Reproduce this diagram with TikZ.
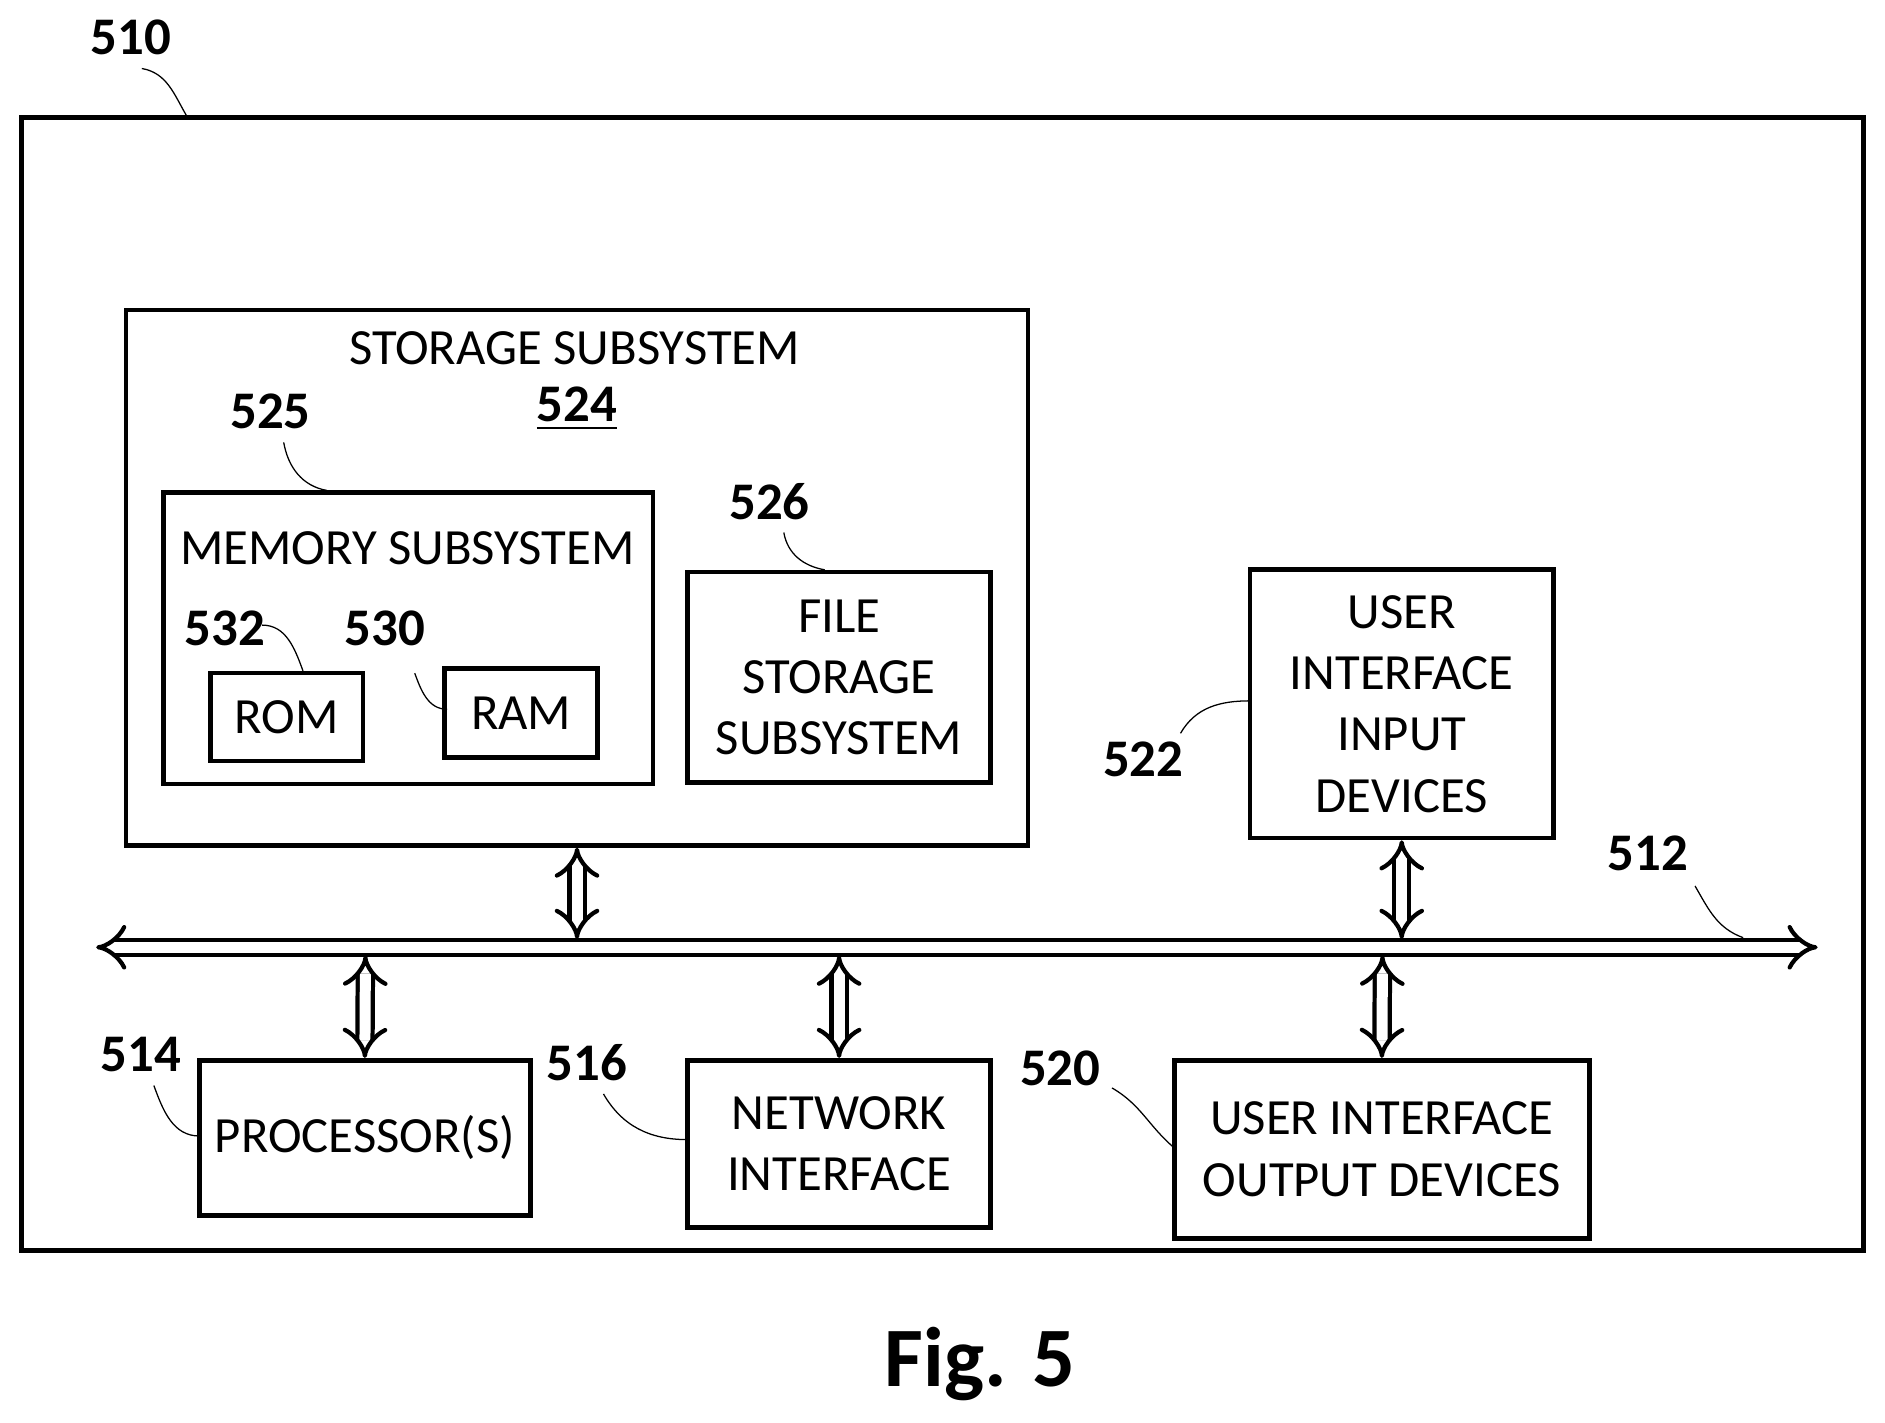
\documentclass[tikz,border=0pt]{standalone}
\usepackage{fontspec}
\setmainfont{Carlito}
\usetikzlibrary{arrows.meta}
\tikzset{
  box/.style={draw, line width=1.1pt, align=center, inner sep=0pt, font=\fontsize{12}{14.5}\selectfont},
  num/.style={font=\bfseries\fontsize{12.5}{14}\selectfont},
  lead/.style={line width=0.3pt},
  dbl/.style={double, double distance=2.6pt, line width=1pt, {Implies}-{Implies}},
}
\begin{document}
\begin{tikzpicture}[x=0.01cm,y=-0.01cm]
  \useasboundingbox (0,0) rectangle (1568,1183);
  % outer system box
  \draw[line width=1.2pt] (18,98) rectangle (1550,1040);
  \node[num] (n510) at (109,31) {510};
  \draw[lead] (118,57) to[out=-10,in=120] (155,96);

  % storage subsystem
  \node[box, minimum width=7.5cm, minimum height=4.45cm] (storage) at (480,480.5) {};
  \node[font=\fontsize{12}{14}\selectfont] (stitle) at (478,290) {STORAGE SUBSYSTEM};
  \node[num] (n524) at (480,340) {\underline{524}};

  \node[box, minimum width=4.07cm, minimum height=2.42cm] (memory) at (339.5,531) {};
  \node[font=\fontsize{12}{14}\selectfont] (mtitle) at (339,456) {MEMORY SUBSYSTEM};
  \node[num] (n525) at (225,342) {525};
  \draw[lead] (236,368) to[out=-80,in=170] (272,408);

  \node[box, minimum width=1.27cm, minimum height=0.73cm] (rom) at (238.5,596.5) {ROM};
  \node[box, minimum width=1.27cm, minimum height=0.74cm] (ram) at (433.5,593) {RAM};
  \node[num] (n532) at (187,523) {532};
  \draw[lead] (218,520) to[out=0,in=110] (252,558);
  \node[num] (n530) at (320,523) {530};
  \draw[lead] (345,560) to[out=-70,in=180] (372,590);

  \node[box, minimum width=2.52cm, minimum height=1.75cm] (file) at (698,563.5) {FILE\\STORAGE\\SUBSYSTEM};
  \node[num] (n526) at (640,417) {526};
  \draw[lead] (652,443) to[out=-80,in=170] (686,474);

  % user interface input
  \node[box, minimum width=2.52cm, minimum height=2.23cm] (uiin) at (1166,585.5) {USER\\INTERFACE\\INPUT\\DEVICES};
  \node[num] (n522) at (951,632) {522};
  \draw[lead] (982,610) to[out=60,in=180] (1040,583);

  % bus
  \coordinate (busL) at (80,788);
  \coordinate (busR) at (1512,788);
  \draw[dbl] (busL) -- (busR);
  \node[num] (n512) at (1371,710) {512};
  \draw[lead] (1410,737) to[out=-60,in=160] (1450,780);

  % lower devices
  \node[box, minimum width=2.75cm, minimum height=1.29cm] (proc) at (303.5,946.5) {PROCESSOR(S)};
  \node[num] (n514) at (117,877) {514};
  \draw[lead] (128,903) to[out=-70,in=180] (166,945);
  \node[box, minimum width=2.52cm, minimum height=1.39cm] (net) at (698,951.5) {NETWORK\\INTERFACE};
  \node[num] (n516) at (488,884) {516};
  \draw[lead] (502,910) to[out=-60,in=180] (572,948);
  \node[box, minimum width=3.45cm, minimum height=1.48cm] (uiout) at (1149.5,956) {USER INTERFACE\\OUTPUT DEVICES};
  \node[num] (n520) at (882,889) {520};
  \draw[lead] (925,905) to[out=-30,in=140] (977,955);

  % links to the bus
  \draw[dbl] (storage.south -| 480,0) -- (480,781);
  \draw[dbl] (uiin.south) -- (1166,781);
  \draw[dbl] (304,795) -- (proc.north);
  \draw[dbl] (698,795) -- (net.north);
  \draw[dbl] (1150,795) -- (uiout.north);

  \node[font=\bfseries\fontsize{20}{24}\selectfont] (fig) at (815,1135) {Fig. 5};
\end{tikzpicture}
\end{document}
